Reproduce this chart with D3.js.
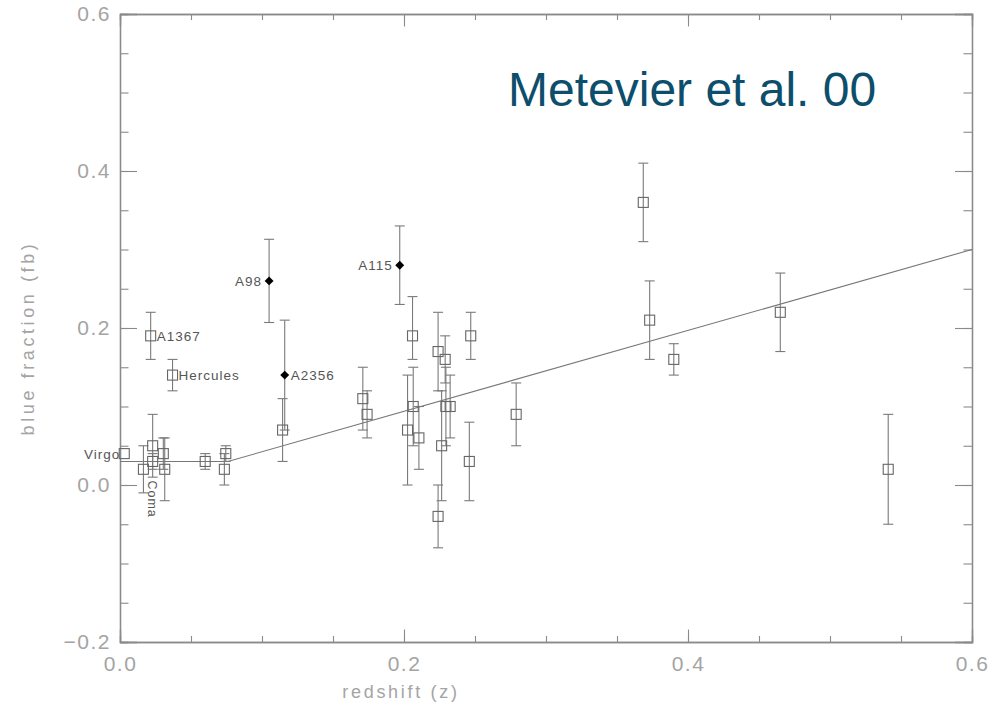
<!DOCTYPE html>
<html>
<head>
<meta charset="utf-8">
<script src="https://cdn.jsdelivr.net/npm/d3@7/dist/d3.min.js"></script>
<style>
  html, body { margin: 0; padding: 0; background: #ffffff; }
  svg { display: block; }
  text { font-family: "Liberation Sans", Arial, Helvetica, sans-serif; }
</style>
</head>
<body>
<svg id="chart" width="994" height="714"></svg>
<script>
// Cluster blue fractions vs redshift (open squares)
const clusterNames = ["Virgo", "", "", "Coma", "", "", "A1367", "Hercules", "", "", "", "",
  "", "", "", "", "", "", "", "", "", "", "", "", "", "", "", "", "", "", "", ""];
const clusterZ  = [0.003, 0.0165, 0.023, 0.023, 0.0305, 0.0315, 0.0216, 0.037, 0.060, 0.0745, 0.0735, 0.1145,
  0.171, 0.174, 0.2025, 0.206, 0.2065, 0.2105, 0.224, 0.229, 0.2265, 0.224, 0.2295, 0.2325,
  0.247, 0.246, 0.279, 0.3685, 0.373, 0.390, 0.465, 0.541];
const clusterFb = [0.04, 0.02, 0.05, 0.03, 0.04, 0.02, 0.19, 0.14, 0.03, 0.04, 0.02, 0.07,
  0.11, 0.09, 0.07, 0.19, 0.10, 0.06, 0.17, 0.16, 0.05, -0.04, 0.10, 0.10,
  0.19, 0.03, 0.09, 0.36, 0.21, 0.16, 0.22, 0.02];
const clusterErrHi = [0, 0.03, 0.04, 0.01, 0.02, 0.04, 0.03, 0.02, 0.01, 0.01, 0.02, 0.04,
  0.04, 0.03, 0.07, 0.05, 0.05, 0.04, 0.05, 0.03, 0.07, 0.04, 0.05, 0.04,
  0.03, 0.05, 0.04, 0.05, 0.05, 0.02, 0.05, 0.07];
const clusterErrLo = [0, 0.03, 0.04, 0.01, 0.02, 0.04, 0.03, 0.02, 0.01, 0.01, 0.02, 0.04,
  0.04, 0.03, 0.07, 0.03, 0.05, 0.04, 0.05, 0.03, 0.07, 0.04, 0.05, 0.04,
  0.03, 0.05, 0.04, 0.05, 0.05, 0.02, 0.05, 0.07];

// Metevier et al. clusters (filled diamonds)
const newNames = ["A98", "A2356", "A115"];
const newZ     = [0.105, 0.116, 0.197];
const newFb    = [0.26, 0.14, 0.28];
const newErr   = [0.053, 0.07, 0.05];

// Piecewise trend: flat, then linear rise
const fitZ  = [0.0, 0.076, 0.6];
const fitFb = [0.03, 0.03, 0.30];

// Axis ticks
const xMajor = [0.0, 0.2, 0.4, 0.6];
const xMinor = d3.range(0, 0.6001, 0.05);
const yMajor = [-0.2, 0.0, 0.2, 0.4, 0.6];
const yMinor = d3.range(-0.2, 0.6001, 0.05);

const L = 120, R = 972, T = 14, B = 642;
const svg = d3.select("#chart");
const x = d3.scaleLinear().domain([0, 0.6]).range([L, R]);
const y = d3.scaleLinear().domain([-0.2, 0.6]).range([B, T]);

const axisColor = "#8a8a8a";
const labelColor = "#a4a4a4";
const markColor = "#666";

const fmt = d3.format(".1f");

function styleAxis(g) {
  g.select(".domain").attr("stroke", axisColor).attr("stroke-width", 1.3);
  g.selectAll(".tick line").attr("stroke", axisColor).attr("stroke-width", 1.1);
  g.selectAll(".tick text").attr("fill", labelColor)
    .style("font-family", "'Liberation Sans', Arial, sans-serif")
    .style("font-size", "21px").style("letter-spacing", "1.5px");
}

// bottom axis
svg.append("g").attr("transform", `translate(0,${B})`)
  .call(d3.axisBottom(x).tickValues(xMinor).tickSize(-6).tickFormat(""))
  .call(styleAxis);
svg.append("g").attr("transform", `translate(0,${B})`)
  .call(d3.axisBottom(x).tickValues(xMajor).tickSize(-12.5).tickPadding(14).tickFormat(fmt))
  .call(styleAxis);
// top axis
svg.append("g").attr("transform", `translate(0,${T})`)
  .call(d3.axisTop(x).tickValues(xMinor).tickSize(-6).tickFormat(""))
  .call(styleAxis);
svg.append("g").attr("transform", `translate(0,${T})`)
  .call(d3.axisTop(x).tickValues(xMajor).tickSize(-12.5).tickFormat(""))
  .call(styleAxis);
// left axis
svg.append("g").attr("transform", `translate(${L},0)`)
  .call(d3.axisLeft(y).tickValues(yMinor).tickSize(-8.5).tickFormat(""))
  .call(styleAxis);
svg.append("g").attr("transform", `translate(${L},0)`)
  .call(d3.axisLeft(y).tickValues(yMajor).tickSize(-17).tickPadding(9).tickFormat(fmt))
  .call(styleAxis);
// right axis
svg.append("g").attr("transform", `translate(${R},0)`)
  .call(d3.axisRight(y).tickValues(yMinor).tickSize(-8.5).tickFormat(""))
  .call(styleAxis);
svg.append("g").attr("transform", `translate(${R},0)`)
  .call(d3.axisRight(y).tickValues(yMajor).tickSize(-17).tickFormat(""))
  .call(styleAxis);

// axis titles
svg.append("text")
  .attr("x", 401).attr("y", 698)
  .attr("text-anchor", "middle").attr("fill", labelColor)
  .style("font-size", "18px").style("letter-spacing", "2.7px").text("redshift (z)");
svg.append("text")
  .attr("transform", `translate(34,338) rotate(-90)`)
  .attr("text-anchor", "middle").attr("fill", labelColor)
  .style("font-size", "18px").style("letter-spacing", "3.6px").text("blue fraction (fb)");

// trend line
svg.append("path")
  .datum(fitZ.map((z, i) => [z, fitFb[i]]))
  .attr("fill", "none").attr("stroke", "#777").attr("stroke-width", 1.1)
  .attr("d", d3.line().x(d => x(d[0])).y(d => y(d[1])));

// error bars
const capW = 5;
function errorBars(zs, fbs, lo, hi) {
  const g = svg.append("g").attr("stroke", "#7a7a7a").attr("stroke-width", 1.1).attr("fill", "none");
  zs.forEach((z, i) => {
    if (lo[i] === 0 && hi[i] === 0) return;
    const cx = x(z), yt = y(fbs[i] + hi[i]), yb = y(fbs[i] - lo[i]);
    g.append("line").attr("x1", cx).attr("x2", cx).attr("y1", yt).attr("y2", yb);
    g.append("line").attr("x1", cx - capW).attr("x2", cx + capW).attr("y1", yt).attr("y2", yt);
    g.append("line").attr("x1", cx - capW).attr("x2", cx + capW).attr("y1", yb).attr("y2", yb);
  });
}
errorBars(clusterZ, clusterFb, clusterErrLo, clusterErrHi);
errorBars(newZ, newFb, newErr, newErr);

// open squares
const sq = 10;
svg.append("g").selectAll("rect").data(clusterZ).join("rect")
  .attr("x", (d) => x(d) - sq / 2)
  .attr("y", (d, i) => y(clusterFb[i]) - sq / 2)
  .attr("width", sq).attr("height", sq)
  .attr("fill", "none").attr("stroke", markColor).attr("stroke-width", 1.1);

// filled diamonds
svg.append("g").selectAll("path").data(newZ).join("path")
  .attr("transform", (d, i) => `translate(${x(d)},${y(newFb[i])}) rotate(45)`)
  .attr("d", d3.symbol(d3.symbolSquare, 40))
  .attr("fill", "#000");

// cluster labels
const labelStyle = s => s.attr("fill", "#555").style("font-size", "13.5px").style("letter-spacing", "1px");
clusterNames.forEach((n, i) => {
  if (!n) return;
  const cx = x(clusterZ[i]), cy = y(clusterFb[i]);
  if (n === "Virgo") {
    svg.append("text").attr("x", cx - 4).attr("y", cy + 5)
      .attr("text-anchor", "end").call(labelStyle).text(n);
  } else if (n === "Coma") {
    // label runs downward below the point
    svg.append("text")
      .attr("transform", `translate(${cx - 4.5},${cy + 19}) rotate(90)`)
      .attr("text-anchor", "start").attr("fill", "#555")
      .style("font-size", "12.5px").style("letter-spacing", "1px").text(n);
  } else {
    svg.append("text").attr("x", cx + 6).attr("y", cy + 5)
      .attr("text-anchor", "start").call(labelStyle).text(n);
  }
});
newNames.forEach((n, i) => {
  const cx = x(newZ[i]), cy = y(newFb[i]);
  const right = n === "A2356";
  svg.append("text").attr("x", right ? cx + 6 : cx - 7).attr("y", cy + 5)
    .attr("text-anchor", right ? "start" : "end").call(labelStyle).text(n);
});

// title
svg.append("text").attr("x", 508).attr("y", 106)
  .attr("fill", "#0d4e6c").style("font-size", "48px").style("font-weight", "300")
  .text("Metevier et al. 00");
</script>
</body>
</html>
